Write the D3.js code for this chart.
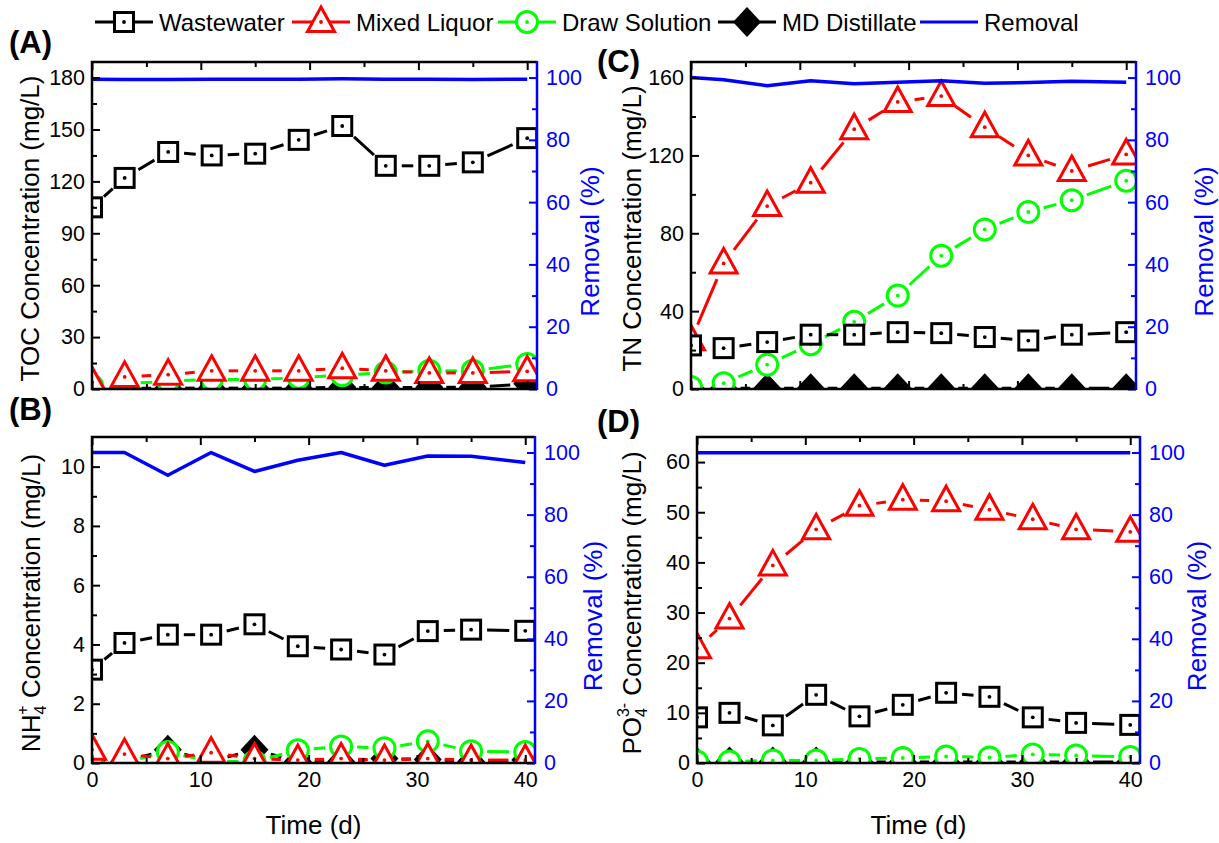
<!DOCTYPE html>
<html><head><meta charset="utf-8">
<script src="https://cdn.jsdelivr.net/npm/d3@7"></script>
<style>
body{margin:0;background:#fff;}
text{font-family:"Liberation Sans",Arial,Helvetica,sans-serif;}
</style>
</head><body>
<svg id="c" width="1219" height="843"></svg>
<script>
// ---------------- DATA ----------------
const days = [0, 3, 7, 11, 15, 19, 23, 27, 31, 35, 40];

const tocWastewater = [105, 122, 137, 135, 136, 144, 152, 129, 129, 131, 145];
const tocMixed      = [4, 7, 8.3, 10.5, 10.5, 10.5, 12, 10.5, 9.3, 9.3, 10.2];
const tocDraw       = [2, 3, 4.5, 5.5, 5.5, 6.5, 8, 9.5, 10.5, 10.5, 14.5];
const tocMD         = [0.3, 0.3, 0.5, 0.5, 0.5, 0.5, 1, 0.8, 1, 1, 3];
const tocRemoval    = [99.5, 99.4, 99.4, 99.5, 99.5, 99.5, 99.6, 99.5, 99.5, 99.4, 99.5];

const nh4Wastewater = [3.15, 4.05, 4.33, 4.33, 4.68, 3.94, 3.83, 3.66, 4.45, 4.5, 4.46];
const nh4Mixed      = [0.45, 0.3, 0.15, 0.35, 0.15, 0.1, 0.15, 0.1, 0.15, 0.1, 0.1];
const nh4Draw       = [0.03, 0.03, 0.37, 0.05, 0.05, 0.43, 0.56, 0.5, 0.73, 0.4, 0.37];
const nh4MD         = [0.1, 0.05, 0.45, 0.05, 0.45, 0.05, 0.05, 0.15, 0.12, 0.05, 0.1];
const nh4Removal    = [100, 100, 92.7, 100, 93.9, 97.5, 100, 95.9, 98.9, 98.8, 96.8];

const tnWastewater  = [22.4, 21, 24.1, 27.9, 27.9, 29.2, 28.7, 26.7, 24.9, 27.9, 29.2];
const tnMixed       = [25, 64.5, 94, 106, 133.5, 147.5, 150.5, 134.5, 120, 112, 120.5];
const tnDraw        = [1, 3, 12.5, 23, 34.5, 48, 68.5, 82, 91, 97, 107];
const tnMD          = [0.3, 0.3, 0.4, 0.4, 0.4, 0.4, 0.4, 0.4, 0.4, 0.4, 0.4];
const tnRemoval     = [100, 99.3, 97.4, 99.0, 98.0, 98.5, 99.0, 98.2, 98.4, 98.8, 98.5];

const po4Wastewater = [9.1, 10, 7.5, 13.6, 9.3, 11.6, 14, 13.2, 9.1, 8, 7.6];
const po4Mixed      = [22.9, 28.8, 39.4, 46.6, 51.3, 52.5, 52.2, 50.5, 48.6, 46.6, 46.1];
const po4Draw       = [0.3, 0.3, 0.5, 0.5, 0.8, 1.0, 1.3, 1.1, 1.7, 1.5, 1.2];
const po4MD         = [0.2, 0.3, 0.3, 0.3, 0.2, 0.2, 0.2, 0.2, 0.2, 0.2, 0.2];
const po4Removal    = [99.9, 99.9, 99.9, 99.9, 99.9, 99.9, 99.9, 99.9, 99.9, 99.9, 99.9];

const seriesNames = ["Wastewater", "Mixed Liquor", "Draw Solution", "MD Distillate", "Removal"];
const xTicks = [0, 10, 20, 30, 40];
const xMinorTicks = [5, 15, 25, 35];
const removalTicks = [0, 20, 40, 60, 80, 100];
const removalMinor = [10, 30, 50, 70, 90];
const tocTicks = [0, 30, 60, 90, 120, 150, 180];
const tocMinor = [15, 45, 75, 105, 135, 165];
const nh4Ticks = [0, 2, 4, 6, 8, 10];
const nh4Minor = [1, 3, 5, 7, 9];
const tnTicks = [0, 40, 80, 120, 160];
const tnMinor = [20, 60, 100, 140];
const po4Ticks = [0, 10, 20, 30, 40, 50, 60];
const po4Minor = [5, 15, 25, 35, 45, 55];

// ---------------- STYLE ----------------
const BLACK = "#000", RED = "#ff0000", GREEN = "#00ff00", BLUE = "#0000ff";
const styles = {
  ww: {color: BLACK, shape: "square"},
  ml: {color: RED, shape: "triangle"},
  ds: {color: GREEN, shape: "circle"},
  md: {color: BLACK, shape: "diamond"}
};
const R = {square: 12, triangle: 13, circle: 12, diamond: 13};

const svg = d3.select("#c");
const defs = svg.append("defs");

function drawMarker(g, shape, color, cx, cy) {
  const m = g.append("g").attr("transform", `translate(${cx},${cy})`);
  if (shape === "square") {
    m.append("rect").attr("x", -9.5).attr("y", -9.5).attr("width", 19).attr("height", 19)
      .attr("fill", "#fff").attr("stroke", color).attr("stroke-width", 3);
    m.append("circle").attr("r", 1.9).attr("fill", color);
  } else if (shape === "triangle") {
    m.append("path").attr("d", "M0,-15L13.5,9.5L-13.5,9.5Z")
      .attr("fill", "#fff").attr("stroke", color).attr("stroke-width", 3).attr("stroke-linejoin", "miter");
    m.append("circle").attr("r", 1.9).attr("fill", color);
  } else if (shape === "circle") {
    m.append("circle").attr("r", 10.5).attr("fill", "#fff").attr("stroke", color).attr("stroke-width", 3);
    m.append("circle").attr("r", 1.9).attr("fill", color);
  } else if (shape === "diamond") {
    m.append("path").attr("d", "M0,-15L14,0L0,15L-14,0Z").attr("fill", color);
  }
}

function drawSeries(g, x, y, vals, st) {
  const pts = days.map((d, i) => [x(d), y(vals[i])]);
  const gap = R[st.shape] + 4;
  for (let i = 0; i < pts.length - 1; i++) {
    const [ax, ay] = pts[i], [bx, by] = pts[i + 1];
    const dx = bx - ax, dy = by - ay, L = Math.hypot(dx, dy);
    if (L <= 2 * gap + 2) continue;
    const ux = dx / L, uy = dy / L;
    g.append("line")
      .attr("x1", ax + ux * gap).attr("y1", ay + uy * gap)
      .attr("x2", bx - ux * gap).attr("y2", by - uy * gap)
      .attr("stroke", st.color).attr("stroke-width", 3);
  }
  pts.forEach(p => drawMarker(g, st.shape, st.color, p[0], p[1]));
}

const TICK_FONT = "21.5px", TITLE_FONT = "26px";

function panel(cfg) {
  const {x0, x1, y0, y1} = cfg.box;
  const x = d3.scaleLinear().domain([0, 40.9]).range([x0, x1]);
  const y = d3.scaleLinear().domain([0, cfg.yMax]).range([y1, y0]);
  const yr = d3.scaleLinear().domain([0, 105]).range([y1, y0]);
  const g = svg.append("g");
  const clipId = "clip" + cfg.id;
  defs.append("clipPath").attr("id", clipId).append("rect")
    .attr("x", x0).attr("y", y0).attr("width", x1 - x0).attr("height", y1 - y0);
  const plot = g.append("g").attr("clip-path", `url(#${clipId})`);

  drawSeries(plot, x, y, cfg.md, styles.md);
  drawSeries(plot, x, y, cfg.ds, styles.ds);
  drawSeries(plot, x, y, cfg.ml, styles.ml);
  drawSeries(plot, x, y, cfg.ww, styles.ww);

  const line = d3.line().x((d, i) => x(days[i])).y(d => yr(d));
  plot.append("path").datum(cfg.rem).attr("d", line)
    .attr("fill", "none").attr("stroke", BLUE).attr("stroke-width", 3.5).attr("stroke-linejoin", "round");

  const styleAxis = (sel, color) => {
    sel.selectAll(".domain").remove();
    sel.selectAll(".tick line").attr("stroke", color).attr("stroke-width", 2);
    sel.selectAll(".tick text").attr("fill", color).style("font-size", TICK_FONT)
      .style("font-family", '"Liberation Sans",Arial,sans-serif');
  };
  const gb = g.append("g").attr("transform", `translate(0,${y1})`)
    .call(d3.axisBottom(x).tickValues(xTicks).tickSize(-8).tickPadding(9)
      .tickFormat(cfg.xLabels ? d3.format("d") : () => ""));
  styleAxis(gb, BLACK);
  const gbm = g.append("g").attr("transform", `translate(0,${y1})`)
    .call(d3.axisBottom(x).tickValues(xMinorTicks).tickSize(-5).tickFormat(() => ""));
  styleAxis(gbm, BLACK);
  const gt = g.append("g").attr("transform", `translate(0,${y0})`)
    .call(d3.axisTop(x).tickValues(xTicks).tickSize(-8).tickFormat(() => ""));
  styleAxis(gt, BLACK);
  const gtm = g.append("g").attr("transform", `translate(0,${y0})`)
    .call(d3.axisTop(x).tickValues(xMinorTicks).tickSize(-5).tickFormat(() => ""));
  styleAxis(gtm, BLACK);
  const gl = g.append("g").attr("transform", `translate(${x0},0)`)
    .call(d3.axisLeft(y).tickValues(cfg.ticks).tickSize(-8).tickPadding(7).tickFormat(d3.format("d")));
  styleAxis(gl, BLACK);
  const glm = g.append("g").attr("transform", `translate(${x0},0)`)
    .call(d3.axisLeft(y).tickValues(cfg.minor).tickSize(-5).tickFormat(() => ""));
  styleAxis(glm, BLACK);
  const gr = g.append("g").attr("transform", `translate(${x1},0)`)
    .call(d3.axisRight(yr).tickValues(removalTicks).tickSize(-8).tickPadding(9).tickFormat(d3.format("d")));
  styleAxis(gr, BLUE);
  const grm = g.append("g").attr("transform", `translate(${x1},0)`)
    .call(d3.axisRight(yr).tickValues(removalMinor).tickSize(-5).tickFormat(() => ""));
  styleAxis(grm, BLUE);

  g.append("path").attr("d", `M${x1},${y0}H${x0}V${y1}H${x1}`)
    .attr("fill", "none").attr("stroke", BLACK).attr("stroke-width", 2.5);
  g.append("line").attr("x1", x1).attr("x2", x1).attr("y1", y0 - 1).attr("y2", y1 + 1)
    .attr("stroke", BLUE).attr("stroke-width", 2.5);

  g.append("text").attr("x", cfg.label[1]).attr("y", cfg.label[2])
    .style("font-size", "31px").style("font-weight", "bold").text(cfg.label[0]);

  const lt = g.append("text")
    .attr("transform", `translate(${cfg.titleX},${(y0 + y1) / 2 + 3}) rotate(-90)`)
    .attr("text-anchor", "middle").style("font-size", TITLE_FONT);
  cfg.title(lt);

  g.append("text")
    .attr("transform", `translate(${cfg.rTitleX},${(y0 + y1) / 2 + 16}) rotate(-90)`)
    .attr("text-anchor", "middle").style("font-size", TITLE_FONT).attr("fill", BLUE)
    .text("Removal (%)");

  if (cfg.xLabels) {
    g.append("text").attr("x", (x0 + x1) / 2).attr("y", 834).attr("text-anchor", "middle")
      .style("font-size", TITLE_FONT).text("Time (d)");
  }
}

panel({id: "A", box: {x0: 92, x1: 537, y0: 62, y1: 389}, yMax: 189, ticks: tocTicks, minor: tocMinor,
  ww: tocWastewater, ml: tocMixed, ds: tocDraw, md: tocMD, rem: tocRemoval, xLabels: false,
  label: ["(A)", 9, 53], titleX: 39, rTitleX: 599,
  title: t => t.text("TOC Concentration (mg/L)")});
panel({id: "B", box: {x0: 92, x1: 535, y0: 437, y1: 763}, yMax: 11, ticks: nh4Ticks, minor: nh4Minor,
  ww: nh4Wastewater, ml: nh4Mixed, ds: nh4Draw, md: nh4MD, rem: nh4Removal, xLabels: true,
  label: ["(B)", 9, 420], titleX: 40, rTitleX: 602,
  title: t => {
    t.append("tspan").text("NH");
    t.append("tspan").style("font-size", "16px").attr("dy", 6).text("4");
    t.append("tspan").style("font-size", "16px").attr("dx", -9).attr("dy", -18).text("+");
    t.append("tspan").attr("dy", 12).text(" Concentration (mg/L)");
  }});
panel({id: "C", box: {x0: 691, x1: 1136, y0: 62, y1: 389}, yMax: 168, ticks: tnTicks, minor: tnMinor,
  ww: tnWastewater, ml: tnMixed, ds: tnDraw, md: tnMD, rem: tnRemoval, xLabels: false,
  label: ["(C)", 597, 72], titleX: 641, rTitleX: 1213,
  title: t => t.text("TN Concentration (mg/L)")});
panel({id: "D", box: {x0: 697, x1: 1140, y0: 437, y1: 763}, yMax: 65, ticks: po4Ticks, minor: po4Minor,
  ww: po4Wastewater, ml: po4Mixed, ds: po4Draw, md: po4MD, rem: po4Removal, xLabels: true,
  label: ["(D)", 597, 432], titleX: 641, rTitleX: 1206,
  title: t => {
    t.append("tspan").text("PO");
    t.append("tspan").style("font-size", "16px").attr("dy", 6).text("4");
    t.append("tspan").style("font-size", "16px").attr("dx", -9).attr("dy", -18).text("3-");
    t.append("tspan").attr("dy", 12).text(" Concentration (mg/L)");
  }});

// ---------------- LEGEND ----------------
const legendItems = [
  {name: seriesNames[0], st: styles.ww, x: 95},
  {name: seriesNames[1], st: styles.ml, x: 292},
  {name: seriesNames[2], st: styles.ds, x: 498},
  {name: seriesNames[3], st: styles.md, x: 718},
  {name: seriesNames[4], st: null, x: 920}
];
const lg = svg.append("g");
const LY = 22;
legendItems.forEach(it => {
  const color = it.st ? it.st.color : BLUE;
  lg.append("line").attr("x1", it.x).attr("x2", it.x + 58).attr("y1", LY).attr("y2", LY)
    .attr("stroke", color).attr("stroke-width", 3);
  if (it.st) drawMarker(lg, it.st.shape, it.st.color, it.x + 29, LY);
  lg.append("text").attr("x", it.x + 64).attr("y", LY + 9).style("font-size", "24px").text(it.name);
});
</script>
</body></html>
